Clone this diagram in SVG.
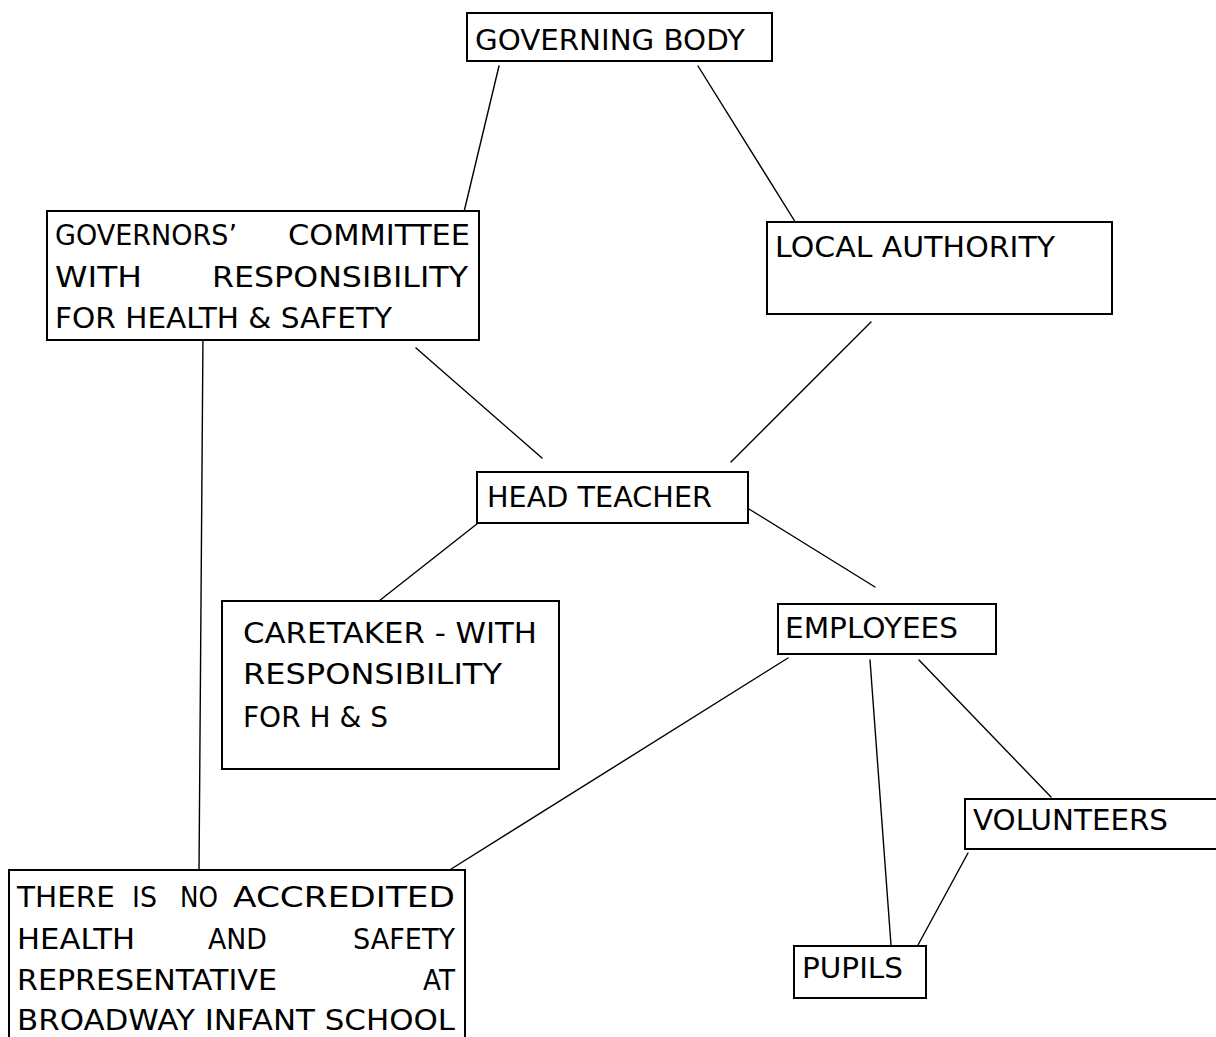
<svg xmlns="http://www.w3.org/2000/svg" width="1216" height="1037" viewBox="0 0 1216 1037">
  <style>
    .box { fill: #ffffff; stroke: #000000; stroke-width: 2; }
    .lbl { font-family: "DejaVu Sans", "Liberation Sans", sans-serif; font-size: 29px; fill: #000000; }
    .link { stroke: #000000; stroke-width: 1.4; fill: none; stroke-linecap: round; }
  </style>
  <rect width="1216" height="1037" fill="#ffffff"/>

  <g id="connectors">
    <line class="link" x1="499" y1="66" x2="463" y2="216"/>
    <line class="link" x1="698" y1="66" x2="799" y2="228"/>
    <line class="link" x1="416" y1="348" x2="542" y2="458"/>
    <line class="link" x1="871" y1="322" x2="731" y2="462"/>
    <line class="link" x1="203" y1="333" x2="199" y2="873"/>
    <line class="link" x1="487" y1="516" x2="379" y2="601"/>
    <line class="link" x1="749" y1="509" x2="875" y2="587"/>
    <line class="link" x1="788" y1="658" x2="448" y2="871"/>
    <line class="link" x1="870" y1="660" x2="891" y2="945"/>
    <line class="link" x1="919" y1="660" x2="1051" y2="797"/>
    <line class="link" x1="968" y1="853" x2="918" y2="945"/>
  </g>

  <g id="governing-body">
    <rect class="box" x="467" y="13" width="305" height="48"/>
    <text class="lbl" x="475" y="50" textLength="270" lengthAdjust="spacingAndGlyphs">GOVERNING BODY</text>
  </g>

  <g id="governors-committee">
    <rect class="box" x="47" y="211" width="432" height="129"/>
    <text class="lbl" x="55" y="245" textLength="182" lengthAdjust="spacingAndGlyphs">GOVERNORS’</text>
    <text class="lbl" x="288" y="245" textLength="182" lengthAdjust="spacingAndGlyphs">COMMITTEE</text>
    <text class="lbl" x="55" y="287" textLength="87" lengthAdjust="spacingAndGlyphs">WITH</text>
    <text class="lbl" x="212" y="287" textLength="256" lengthAdjust="spacingAndGlyphs">RESPONSIBILITY</text>
    <text class="lbl" x="55" y="328" textLength="337" lengthAdjust="spacingAndGlyphs">FOR HEALTH &amp; SAFETY</text>
  </g>

  <g id="local-authority">
    <rect class="box" x="767" y="222" width="345" height="92"/>
    <text class="lbl" x="775" y="257" textLength="280" lengthAdjust="spacingAndGlyphs">LOCAL AUTHORITY</text>
  </g>

  <g id="head-teacher">
    <rect class="box" x="477" y="472" width="271" height="51"/>
    <text class="lbl" x="487" y="507" textLength="225" lengthAdjust="spacingAndGlyphs">HEAD TEACHER</text>
  </g>

  <g id="caretaker">
    <rect class="box" x="222" y="601" width="337" height="168"/>
    <text class="lbl" x="243" y="643" textLength="294" lengthAdjust="spacingAndGlyphs">CARETAKER - WITH</text>
    <text class="lbl" x="243" y="684" textLength="259" lengthAdjust="spacingAndGlyphs">RESPONSIBILITY</text>
    <text class="lbl" x="243" y="727" textLength="145" lengthAdjust="spacingAndGlyphs">FOR H &amp; S</text>
  </g>

  <g id="employees">
    <rect class="box" x="778" y="604" width="218" height="50"/>
    <text class="lbl" x="785" y="638" textLength="173" lengthAdjust="spacingAndGlyphs">EMPLOYEES</text>
  </g>

  <g id="volunteers">
    <rect class="box" x="965" y="799" width="270" height="50"/>
    <text class="lbl" x="973" y="830" textLength="195" lengthAdjust="spacingAndGlyphs">VOLUNTEERS</text>
  </g>

  <g id="pupils">
    <rect class="box" x="794" y="946" width="132" height="52"/>
    <text class="lbl" x="802" y="978" textLength="101" lengthAdjust="spacingAndGlyphs">PUPILS</text>
  </g>

  <g id="no-representative">
    <rect class="box" x="9" y="870" width="456" height="190"/>
    <text class="lbl" x="17" y="907" textLength="98" lengthAdjust="spacingAndGlyphs">THERE</text>
    <text class="lbl" x="132" y="907" textLength="25" lengthAdjust="spacingAndGlyphs">IS</text>
    <text class="lbl" x="180" y="907" textLength="38" lengthAdjust="spacingAndGlyphs">NO</text>
    <text class="lbl" x="233" y="907" textLength="222" lengthAdjust="spacingAndGlyphs">ACCREDITED</text>
    <text class="lbl" x="17" y="949" textLength="118" lengthAdjust="spacingAndGlyphs">HEALTH</text>
    <text class="lbl" x="208" y="949" textLength="59" lengthAdjust="spacingAndGlyphs">AND</text>
    <text class="lbl" x="353" y="949" textLength="102" lengthAdjust="spacingAndGlyphs">SAFETY</text>
    <text class="lbl" x="17" y="990" textLength="260" lengthAdjust="spacingAndGlyphs">REPRESENTATIVE</text>
    <text class="lbl" x="423" y="990" textLength="32" lengthAdjust="spacingAndGlyphs">AT</text>
    <text class="lbl" x="17" y="1030" textLength="438" lengthAdjust="spacingAndGlyphs">BROADWAY INFANT SCHOOL</text>
  </g>
</svg>
